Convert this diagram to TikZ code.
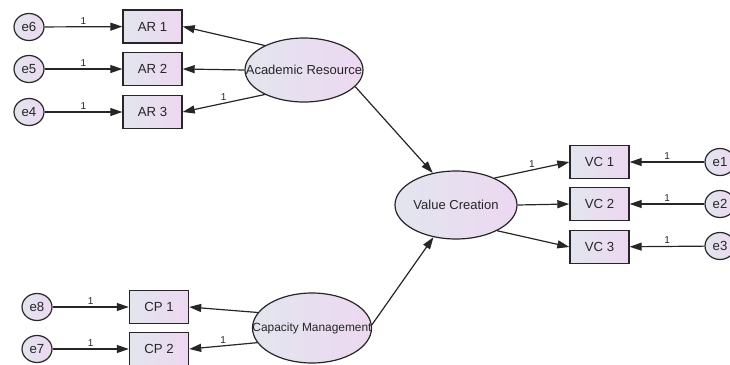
\documentclass[tikz,border=0pt]{standalone}
\usepackage{fontspec}
\setmainfont{Liberation Sans}
\usetikzlibrary{arrows.meta,shapes.geometric}
\definecolor{gA}{HTML}{E2E5EE}
\definecolor{gB}{HTML}{EDD8F1}
\definecolor{ink}{HTML}{262626}
\tikzset{
  obs/.style={rectangle,draw=ink,line width=1.4pt,left color=gA,right color=gB,
    minimum width=59pt,minimum height=33pt,inner sep=0pt,font=\fontsize{13.2}{14}\selectfont,text=ink},
  lat/.style={ellipse,draw=ink,line width=1.2pt,left color=gA,right color=gB,
    inner sep=0pt,font=\fontsize{13}{14}\selectfont,text=ink},
  err/.style={ellipse,draw=ink,line width=1.2pt,left color=gA,right color=gB,
    minimum width=30pt,minimum height=27pt,inner sep=0pt,font=\fontsize{13.2}{14}\selectfont,text=ink},
  conn/.style={draw=ink,line width=1.2pt,-{Triangle[length=12pt,width=8pt]}},
  one/.style={font=\fontsize{10}{11}\selectfont,text=ink,above=1pt,midway,inner sep=1pt}
}
\newcommand{\zw}[1]{\makebox[0pt]{#1}}
\begin{document}
\begin{tikzpicture}[x=1pt,y=-1pt]
\useasboundingbox (0,0) rectangle (730,364);
% Academic Resource block
\node[err] (e6) at (29,27) {e6};
\node[err] (e5) at (29,69) {e5};
\node[err] (e4) at (29,112) {e4};
\node[obs] (ar1) at (152.5,26.5) {AR 1};
\node[obs] (ar2) at (152.5,69) {AR 2};
\node[obs] (ar3) at (152.5,112) {AR 3};
\node[lat,minimum width=118pt,minimum height=64pt] (ar) at (304,70) {\zw{Academic Resource}};
% Value creation block
\node[lat,minimum width=122pt,minimum height=68pt] (vc) at (456,205) {\zw{Value Creation}};
\node[obs] (vc1) at (599.5,162) {VC 1};
\node[obs] (vc2) at (599.5,204) {VC 2};
\node[obs] (vc3) at (599.5,247) {VC 3};
\node[err] (e1) at (720,162) {e1};
\node[err] (e2) at (720,204) {e2};
\node[err] (e3) at (720,246) {e3};
% Capacity management block
\node[lat,minimum width=119pt,minimum height=70pt,font=\fontsize{11.9}{13}\selectfont] (cm) at (312,328) {\zw{Capacity Management}};
\node[obs] (cp1) at (159,307) {CP 1};
\node[obs] (cp2) at (159,349) {CP 2};
\node[err] (e8) at (37,307) {e8};
\node[err] (e7) at (37,349) {e7};
% error arrows
\draw[conn] (e6) -- node[one]{1} (ar1);
\draw[conn] (e5) -- node[one]{1} (ar2);
\draw[conn] (e4) -- node[one]{1} (ar3);
\draw[conn] (e1) -- node[one]{1} (vc1);
\draw[conn] (e2) -- node[one]{1} (vc2);
\draw[conn] (e3) -- node[one]{1} (vc3);
\draw[conn] (e8) -- node[one]{1} (cp1);
\draw[conn] (e7) -- node[one]{1} (cp2);
% loadings
\draw[conn] (ar.148) -- (ar1.east);
\draw[conn] (ar.west) -- (ar2.east);
\draw[conn] (ar.212) -- node[one]{1} (ar3.east);
\draw[conn] (vc.35) -- node[one]{1} (vc1.west);
\draw[conn] (vc.east) -- (vc2.west);
\draw[conn] (vc.-32) -- (vc3.west);
\draw[conn] (cm.164) -- (cp1.east);
\draw[conn] (cm.195) -- node[one]{1} (cp2.east);
% structural paths
\draw[conn] (ar.-18) -- (vc.126);
\draw[conn] (cm.3) -- (vc.235);
\end{tikzpicture}
\end{document}
